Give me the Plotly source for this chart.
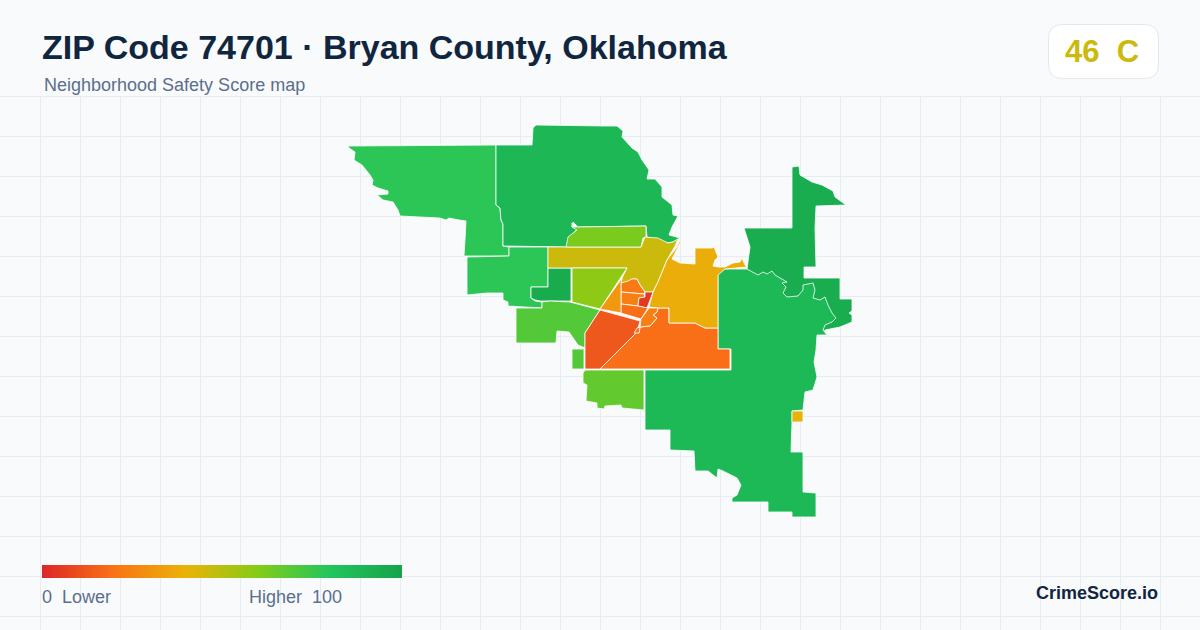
import plotly.graph_objects as go
from plotly.colors import sample_colorscale

WIDTH = 1200
HEIGHT = 630
FONT = "Liberation Sans"

title_text = "ZIP Code 74701 · Bryan County, Oklahoma"
subtitle_text = "Neighborhood Safety Score map"
badge_score = 46
badge_grade = "C"
legend_low = "0\u00a0\u00a0Lower"
legend_high = "Higher\u00a0\u00a0100"
brand_text = "CrimeScore.io"

score_scale = [
    [0.0, "#dc2626"],
    [0.2, "#f97316"],
    [0.4, "#eab308"],
    [0.6, "#84cc16"],
    [0.8, "#22c55e"],
    [1.0, "#16a34a"],
]

# neighborhood outlines (x east, y south, in map units)
northeast = [(792,167),(799,166),(800,175),(812,182),(822,185),(833,191),(835,197),(846,205),(816,206),(815,228),(816,267),(804,267),
             (804,278),(822,278),(840,278),(840,299),(852,299),(852,311),(849,313),(852,315),(852,322),(840,327),(825,330),
             (823,335),(817,335),(770,300),(747,269),(750,247),(744,228),(792,228)]
southeast = [(718,273),(725,269),(747,269),(758,275),(763,272),(767,274),(772,271),(775,275),(780,278),(787,282),
             (782,283),(786,287),(783,293),(787,297),(798,296),(803,290),(803,285),(813,283),(815,290),(813,298),
             (820,300),(825,297),(828,305),(832,313),(836,318),(832,322),(825,325),(823,330),(827,335),(817,335),
             (816,350),(814,362),(817,377),(813,390),(805,392),(803,410),(792,411),(792,422),(791,452),(803,452),
             (803,492),(816,493),(816,517),(792,517),(792,512),(768,512),(768,502),(732,502),(732,498),(737,495),
             (741,485),(737,478),(723,471),(718,469),(717,478),(708,471),(695,471),(694,451),(670,450),(670,430),
             (645,430),(645,370),(731,370),(731,349),(718,349)]
far_northwest = [(348,146),(496,145),(496,205),(500,208),(501,220),(503,224),(503,246),(509,247),(509,256),(464,256),
                 (465,240),(466,221),(459,220),(449,218),(446,220),(440,218),(400,216),(398,210),(393,202),(383,200),
                 (377,195),(388,194),(388,191),(378,188),(372,185),(373,180),(370,175),(362,165),(354,160),(355,152),(349,148)]
north = [(532,145),(533,128),(536,125),(577,126),(604,126),(617,126),(623,131),(622,137),(632,148),(638,152),
         (642,160),(649,170),(647,179),(655,179),(662,187),(662,197),(672,205),(673,215),(678,216),(672,227),
         (669,235),(680,238),(673,242),(668,243),
         (647,237),(646,226),(578,227),(573,222),(572,227),(578,228),(570,237),(567,247),(503,246),(503,224),
         (501,220),(500,208),(496,205),(496,145)]
west = [(467,257),(509,256),(509,247),(548,247),(548,287),(531,287),(531,298),(535,301),(542,302),(542,308),
        (508,306),(508,302),(503,300),(503,293),(487,293),(473,294),(467,295)]
west_inner = [(548,268),(571,268),(571,301),(540,301),(535,300),(531,298),(531,287),(548,287)]
center_band = [(548,247),(641,247),(645,237),(658,238),(668,243),(673,242),(678,239),(675,246),(667,260),(658,282),
               (653,292),(645,292),(640,285),(637,279),(632,279),(628,282),(621,283),(622,278),(627,268),(548,268)]
center_west = [(572,268),(627,268),(600,309),(572,302)]
north_middle = [(572,223),(573,227),(578,227),(646,226),(646,237),(643,238),(641,247),(566,247),(568,237),(577,230),(572,227)]
southwest = [(516,308),(542,308),(542,302),(550,301),(570,302),(600,310),(585,333),(585,348),(578,345),(569,332),
             (557,331),(556,343),(516,343)]
southwest_block = [(572,349),(584,349),(584,369),(572,369)]
south_west_town = [(600,310),(640,321),(637,332),(600,369),(585,369),(585,333)]
south_town = [(600,369),(637,332),(639,333),(640,327),(650,326),(657,318),(653,315),(657,312),(658,308),(669,308),
              (669,323),(695,323),(705,328),(718,328),(718,349),(730,349),(730,369)]
east_town = [(658,282),(667,260),(677,247),(680,240),(681,241),(672,259),(680,263),(695,264),(695,248),(712,248),(714,247),(716,253),
             (718,257),(715,260),(713,266),(718,267),(725,267),(733,263),(740,262),(742,258),(745,265),(747,267),
             (733,268),(725,269),(718,275),(718,328),(705,328),(695,323),(669,323),(669,308),(658,308),(649,307),(653,292)]
town_north = [(621,283),(628,281),(632,279),(637,279),(640,285),(645,292),(644,294),(621,292)]
town_middle = [(621,292),(644,294),(645,297),(639,298),(638,306),(621,304)]
town_core = [(645,292),(653,292),(647,308),(638,306),(639,298),(645,297)]
town_south = [(621,304),(638,306),(648,308),(641,319),(621,313)]
town_west = [(622,278),(621,283),(621,313),(600,309)]
town_east = [(641,319),(649,308),(658,308),(657,312),(653,315),(657,318),(650,326),(640,327)]
town_sliver = [(637,328),(640,327),(639,333),(634,333)]
south = [(585,370),(644,370),(644,410),(622,408),(621,405),(605,406),(604,409),(597,408),(597,403),(586,401),
         (587,385),(583,383),(583,373)]
east_block = [(792,411),(803,411),(803,422),(792,422)]

zone_shapes = [northeast, southeast, far_northwest, north, west, west_inner, center_band, center_west, north_middle,
               southwest, southwest_block, south_west_town, south_town, east_town, town_north, town_middle, town_core,
               town_south, town_west, town_east, town_sliver, south, east_block]
zone_scores = [94, 87, 78, 88, 78, 95, 46, 58, 62, 70, 70, 13, 19, 38, 22, 24, 5, 19, 32, 24, 19, 67, 41]


def px(x):
    return x / WIDTH


def py(y):
    return 1 - y / HEIGHT


def add_label(fig, x, y, text, size, color, bold=False, anchor="left"):
    fig.add_annotation(xref="paper", yref="paper", x=px(x), y=py(y), text=f"<b>{text}</b>" if bold else text,
                       showarrow=False, xanchor=anchor, yanchor="middle",
                       font=dict(family=FONT, size=size, color=color))


fig = go.Figure()

for shape, score in zip(zone_shapes, zone_scores):
    xs = [p[0] for p in shape] + [shape[0][0]]
    ys = [p[1] for p in shape] + [shape[0][1]]
    fill = sample_colorscale(score_scale, score / 100)[0]
    fig.add_trace(go.Scatter(x=xs, y=ys, mode="lines", fill="toself", fillcolor=fill,
                             line=dict(color="white", width=0.8), showlegend=False, hoverinfo="skip"))

# invisible trace, only here to carry the colour bar
fig.add_trace(go.Scatter(x=[None, None], y=[None, None], mode="markers", showlegend=False, hoverinfo="skip",
                         marker=dict(color=[0, 100], cmin=0, cmax=100, colorscale=score_scale, showscale=True,
                                     colorbar=dict(orientation="h", x=px(42), xanchor="left", y=py(565), yanchor="top",
                                                   len=360 / WIDTH, lenmode="fraction", thickness=13,
                                                   thicknessmode="pixels", xpad=0, ypad=0, outlinewidth=0,
                                                   showticklabels=False, ticks=""))))

fig.update_xaxes(range=[0, WIDTH], domain=[0, 1], tick0=0, dtick=40, showgrid=True, gridcolor="#e6edf2", gridwidth=1,
                 zeroline=False, showticklabels=False, ticks="", fixedrange=True)
fig.update_yaxes(range=[HEIGHT, 96], domain=[0, (HEIGHT - 96) / HEIGHT], tick0=96, dtick=40, showgrid=True,
                 gridcolor="#e6edf2", gridwidth=1, zeroline=False, showticklabels=False, ticks="", fixedrange=True)

# plotly drops a grid line sitting on the axis end, so the top rule is drawn by hand
fig.add_shape(type="line", xref="paper", yref="paper", x0=0, x1=1, y0=py(96.5), y1=py(96.5), layer="below",
              line=dict(color="#e6edf2", width=1))

# score badge, top right
x0, x1, y0, y1, r = px(1048.5), px(1158.5), py(24.5), py(78.5), 14
rx, ry = r / WIDTH, r / HEIGHT
badge_path = (f"M {x0 + rx} {y0} L {x1 - rx} {y0} Q {x1} {y0} {x1} {y0 - ry} L {x1} {y1 + ry} Q {x1} {y1} {x1 - rx} {y1} "
              f"L {x0 + rx} {y1} Q {x0} {y1} {x0} {y1 + ry} L {x0} {y0 - ry} Q {x0} {y0} {x0 + rx} {y0} Z")
fig.add_shape(type="path", xref="paper", yref="paper", path=badge_path, fillcolor="white",
              line=dict(color="#e2e8f0", width=1))

badge_color = sample_colorscale(score_scale, badge_score / 100)[0]
add_label(fig, 40, 47, title_text, 34, "#10263f", bold=True)
add_label(fig, 42, 85, subtitle_text, 18, "#5b6f8c")
add_label(fig, 1063, 51, f"{badge_score}\u00a0\u00a0{badge_grade}", 31, badge_color, bold=True)
add_label(fig, 40, 597, legend_low, 18, "#5b6f8c")
add_label(fig, 247, 597, legend_high, 18, "#5b6f8c")
add_label(fig, 1160, 593, brand_text, 18, "#10263f", bold=True, anchor="right")

fig.update_layout(width=WIDTH, height=HEIGHT, margin=dict(l=0, r=0, t=0, b=0), autosize=False,
                  paper_bgcolor="#f8fafc", plot_bgcolor="#f8fafc", showlegend=False)

# the page has a default 8px body margin, drop it so the figure fills the window
fig.write_html("out.html", config={"displayModeBar": False},
               post_script="document.body.style.margin='0';document.body.style.background='#f8fafc';")
